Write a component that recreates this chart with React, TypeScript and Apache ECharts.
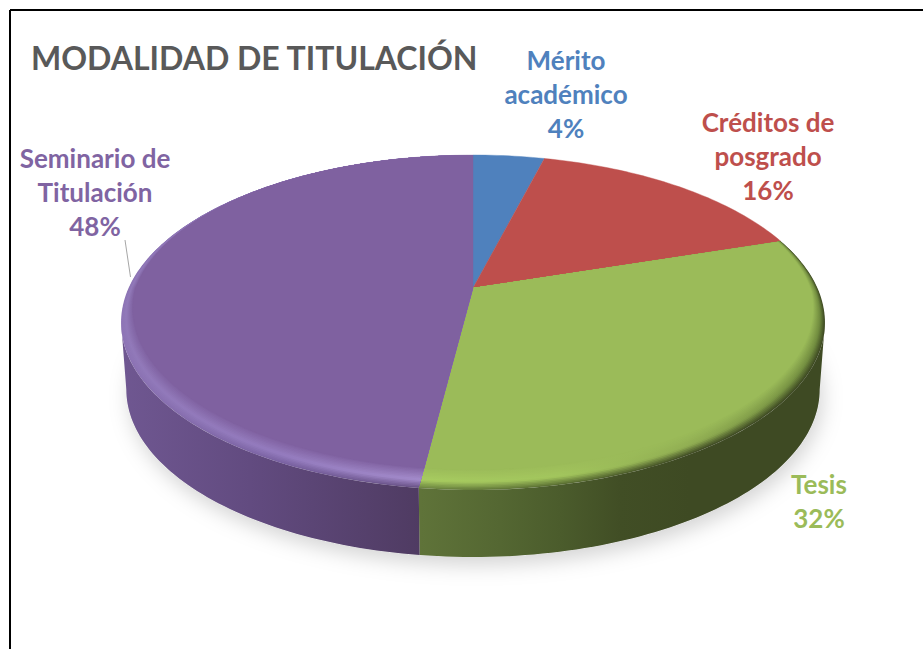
import React, { useEffect, useRef } from "react";
import * as echarts from "echarts";

const titleText = "MODALIDAD DE TITULACIÓN";
const categories = ["Mérito\nacadémico", "Créditos de\nposgrado", "Tesis", "Seminario de\nTitulación"];
const values = [4, 16, 32, 48];

const baseColors = ["#4F81BD", "#BE4F4C", "#9BBB59", "#7F61A0"];
const labelColors = ["#4F81BD", "#BE4F4C", "#9BBB59", "#8064A2"];
const labelAnchors = [[566, 94], [768, 156], [819, 501], [95, 192]];

const apex = { x: 473, y: 288 };
const persp = 0.206, scaleX = 344.4, scaleY = 160.4;
const wallDrop = 67, wallNarrow = 0.985;
const LAYERS = 14;

type Stop = { x: number; edge: string; peak: string };
const rimStops: (Stop[] | null)[] = [
  null,
  null,
  [
    { x: 421, edge: "#6f8842", peak: "#a8cc60" },
    { x: 560, edge: "#5b7033", peak: "#a3c65d" },
    { x: 690, edge: "#434f26", peak: "#90ad52" },
    { x: 826, edge: "#3f4b23", peak: "#6f8a3e" },
  ],
  [
    { x: 122, edge: "#8d74b5", peak: "#9179b9" },
    { x: 280, edge: "#7a62a2", peak: "#957cbf" },
    { x: 421, edge: "#6a5387", peak: "#a48ccc" },
  ],
];
const wallStops: ([number, string][] | null)[] = [
  null,
  null,
  [[421, "#5f7339"], [500, "#546732"], [560, "#4b5c2c"], [620, "#414e25"], [690, "#3e4a23"], [826, "#3e4a23"]],
  [[122, "#6f5791"], [250, "#624b80"], [421, "#4f3b62"]],
];

const total = values.reduce((a, b) => a + b, 0);
const rad = (deg: number) => (deg * Math.PI) / 180;

function project(deg: number) {
  const u = Math.sin(rad(deg)), d = Math.cos(rad(deg));
  const w = 1 + persp * d;
  return { x: apex.x + (scaleX * u) / w, y: apex.y - (scaleY * d) / w, d };
}
function inset(deg: number, t: number): number[] {
  const p = project(deg);
  const delta = p.d < 0 ? 0.02 + -p.d * 0.08 : 0.02 * (1 - p.d) * (1 - p.d) + 0.001;
  const s = 1 - delta * t;
  return [apex.x + (p.x - apex.x) * s, apex.y + (p.y - apex.y) * s];
}
function lower(deg: number): number[] {
  const p = project(deg);
  return [apex.x + (p.x - apex.x) * wallNarrow, p.y + wallDrop];
}
function range(a: number, b: number): number[] {
  const n = Math.max(2, Math.ceil((b - a) / 1.2));
  return Array.from({ length: n + 1 }, (_, i) => a + ((b - a) * i) / n);
}
function hex(c: string) {
  return [1, 3, 5].map((i) => parseInt(c.slice(i, i + 2), 16));
}
function mixHex(a: string, b: string, f: number) {
  const x = hex(a), y = hex(b);
  return "rgb(" + x.map((v, i) => Math.round(v + (y[i] - v) * f)).join(",") + ")";
}
function profile(s: Stop, base: string, t: number) {
  const knee = 0.38;
  return t < knee ? mixHex(s.edge, s.peak, t / knee) : mixHex(s.peak, base, (t - knee) / (1 - knee));
}
function gradient(stops: [number, string][]) {
  const x0 = stops[0][0], x1 = stops[stops.length - 1][0];
  return new echarts.graphic.LinearGradient(
    x0, 0, x1, 0,
    stops.map(([x, color]) => ({ offset: (x - x0) / (x1 - x0), color })),
    true as any
  );
}
function bounds(i: number) {
  const before = values.slice(0, i).reduce((a, b) => a + b, 0);
  return [(before / total) * 360, ((before + values[i]) / total) * 360];
}

const seriesData = values.map((value, i) => ({ name: categories[i], value }));

function renderShadow(params: any) {
  if (params.dataIndex !== 0) return { type: "group", children: [] };
  return {
    type: "polygon",
    shape: { points: range(0, 360).map(lower) },
    style: {
      fill: "#dddddd",
      shadowBlur: 20,
      shadowOffsetX: 3,
      shadowOffsetY: 8,
      shadowColor: "rgba(0,0,0,0.17)",
    },
  };
}

function renderWall(params: any) {
  const i = params.dataIndex;
  const stops = wallStops[i];
  if (!stops) return { type: "group", children: [] };
  const [a, b] = bounds(i);
  const from = Math.max(a, 101.9), to = Math.min(b, 258.1);
  const angles = range(from, to);
  const top = angles.map((deg) => {
    const p = project(deg);
    return [p.x, p.y];
  });
  const bottom = angles.slice().reverse().map(lower);
  return {
    type: "polygon",
    shape: { points: top.concat(bottom) },
    style: { fill: gradient(stops) },
  };
}

function renderTop(params: any, api: any) {
  const i = params.dataIndex;
  const [a] = bounds(i);
  const b = a + (api.value(0) / total) * 360;
  const angles = range(a, b);
  const base = baseColors[i];
  const poly = (t: number) => [[apex.x, apex.y] as number[]].concat(angles.map((deg) => inset(deg, t)));
  const children: any[] = [];
  const stops = rimStops[i];
  if (stops) {
    for (let k = 0; k < LAYERS; k++) {
      const t = k / LAYERS;
      const layer = stops.map((s) => [s.x, profile(s, base, t)] as [number, string]);
      children.push({ type: "polygon", shape: { points: poly(t) }, style: { fill: gradient(layer) } });
    }
  }
  children.push({
    type: "polygon",
    shape: { points: poly(stops ? 1 : 0) },
    style: { fill: base, stroke: base, lineWidth: 0.4 },
  });
  return { type: "group", children };
}

function renderLabel(params: any, api: any) {
  const i = params.dataIndex;
  const [x, y] = labelAnchors[i];
  return {
    type: "text",
    x,
    y,
    style: {
      text: categories[i] + "\n" + api.value(0) + "%",
      fill: labelColors[i],
      font: "bold 26px Lato",
      lineHeight: 34,
      align: "center",
      verticalAlign: "middle",
    },
  };
}

export default function App() {
  const ref = useRef<HTMLDivElement>(null);
  useEffect(() => {
    const chart = echarts.init(ref.current!, null, { renderer: "svg" });
    const custom = (name: string, renderItem: any, z: number) => ({
      type: "custom",
      name,
      coordinateSystem: "none",
      data: seriesData,
      renderItem,
      z,
      silent: true,
    });
    chart.setOption({
      animation: false,
      backgroundColor: "#ffffff",
      title: {
        text: titleText,
        left: 31,
        top: 41,
        padding: 0,
        textStyle: { color: "#595959", fontFamily: "Lato", fontWeight: "bold", fontSize: 32 },
      },
      graphic: [
        { type: "line", shape: { x1: 10, y1: 10, x2: 923, y2: 10 }, style: { stroke: "#000", lineWidth: 2 } },
        { type: "line", shape: { x1: 10, y1: 10, x2: 10, y2: 649 }, style: { stroke: "#000", lineWidth: 2 } },
        { type: "line", shape: { x1: 125, y1: 240, x2: 130.5, y2: 277 }, style: { stroke: "#a6a6a6", lineWidth: 1 } },
      ],
      series: [
        custom("shadow", renderShadow, 1),
        custom("walls", renderWall, 2),
        custom("slices", renderTop, 3),
        custom("labels", renderLabel, 4),
      ],
    });
    return () => chart.dispose();
  }, []);
  return <div ref={ref} style={{ position: "absolute", left: 0, top: 0, width: 923, height: 649 }} />;
}
